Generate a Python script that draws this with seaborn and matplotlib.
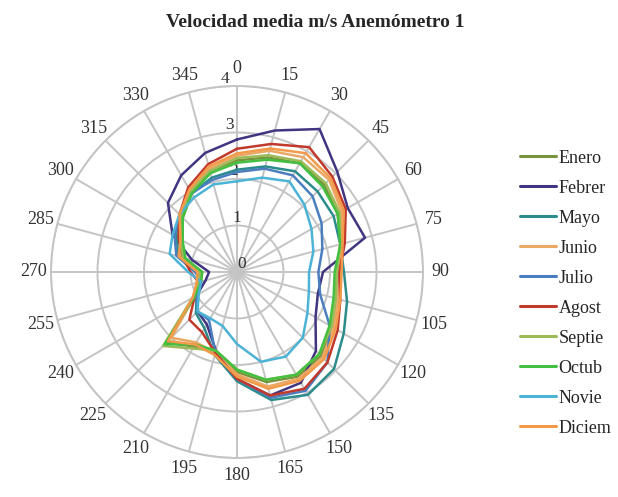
import numpy as np
import pandas as pd
import matplotlib.pyplot as plt
import seaborn as sns

# directions (degrees) and monthly mean speeds (m/s)
directions = [0, 15, 30, 45, 60, 75, 90, 105, 120, 135, 150, 165,
              180, 195, 210, 225, 240, 255, 270, 285, 300, 315, 330, 345]

months = ["Enero", "Febrer", "Mayo", "Junio", "Julio",
          "Agost", "Septie", "Octub", "Novie", "Diciem"]

enero = [2.40, 2.55, 2.70, 2.65, 2.50, 2.30, 2.15, 2.20, 2.35, 2.55, 2.60, 2.45,
         2.15, 1.80, 1.85, 2.15, 1.05, 0.80, 0.75, 1.20, 1.35, 1.65, 1.95, 2.25]
febrer = [2.85, 3.15, 3.55, 3.05, 2.75, 2.85, 1.85, 1.80, 1.95, 2.40, 2.75, 2.75,
          2.30, 1.75, 1.30, 1.20, 1.00, 0.70, 0.60, 1.00, 1.60, 2.10, 2.40, 2.65]
mayo = [2.20, 2.35, 2.50, 2.45, 2.40, 2.30, 2.30, 2.45, 2.65, 2.95, 3.05, 2.85,
        2.35, 1.85, 1.40, 1.25, 1.00, 0.80, 0.85, 1.30, 1.50, 1.70, 1.95, 2.10]
junio = [2.50, 2.70, 2.85, 2.80, 2.60, 2.30, 2.20, 2.25, 2.40, 2.60, 2.65, 2.55,
         2.20, 1.80, 1.75, 2.00, 1.05, 0.85, 0.80, 1.25, 1.40, 1.70, 2.00, 2.30]
julio = [2.15, 2.30, 2.40, 2.30, 2.10, 1.90, 1.75, 1.85, 2.30, 2.75, 2.95, 2.80,
         2.30, 1.80, 1.20, 1.20, 1.00, 0.80, 0.90, 1.35, 1.55, 1.75, 1.95, 2.05]
agost = [2.65, 2.85, 3.10, 2.90, 2.70, 2.40, 2.20, 2.30, 2.50, 2.75, 2.90, 2.75,
         2.30, 1.80, 1.50, 1.45, 1.05, 0.85, 1.00, 1.20, 1.45, 1.75, 2.10, 2.40]
septie = [2.45, 2.60, 2.75, 2.70, 2.55, 2.30, 2.15, 2.20, 2.35, 2.50, 2.55, 2.40,
          2.10, 1.75, 1.90, 2.25, 1.10, 0.85, 0.80, 1.20, 1.40, 1.70, 2.00, 2.25]
octub = [2.35, 2.50, 2.70, 2.60, 2.50, 2.30, 2.10, 2.15, 2.30, 2.50, 2.55, 2.40,
         2.10, 1.75, 1.80, 2.20, 1.05, 0.80, 0.75, 1.15, 1.35, 1.65, 1.95, 2.20]
novie = [1.95, 2.10, 2.25, 2.05, 1.85, 1.70, 1.55, 1.60, 1.75, 2.00, 2.10, 2.00,
         1.55, 1.20, 1.15, 1.20, 0.95, 0.80, 1.05, 1.50, 1.60, 1.75, 1.85, 1.95]
diciem = [2.55, 2.75, 2.95, 2.85, 2.65, 2.35, 2.25, 2.30, 2.45, 2.65, 2.70, 2.60,
          2.25, 1.85, 1.80, 2.10, 1.10, 0.90, 0.85, 1.30, 1.40, 1.75, 2.05, 2.35]

series = [enero, febrer, mayo, junio, julio, agost, septie, octub, novie, diciem]
colors = ["#77933c", "#403580", "#2c8c8c", "#eaa864", "#4a7ebf",
          "#c0392b", "#9bbb59", "#44c040", "#4bb3d6", "#f29a4a"]

# long table, closing each loop by repeating the first direction
rows = []
for m, vals in zip(months, series):
    for d, v in zip(directions + [360], vals + [vals[0]]):
        rows.append({"mes": m, "theta": np.deg2rad(d), "v": v})
df = pd.DataFrame(rows)

sns.set_style("white")
plt.rcParams["font.family"] = ["Liberation Serif", "DejaVu Serif"]

fig = plt.figure(figsize=(6.18, 4.97), dpi=100)
ax = fig.add_axes([0.0825, 0.0785, 0.602, 0.7485], projection="polar")

sns.lineplot(
    data=df,
    x="theta",
    y="v",
    hue="mes",
    hue_order=months,
    palette=colors,
    sort=False,
    estimator=None,
    units="mes",
    linewidth=1.8,
    ax=ax,
)

ax.set_theta_zero_location("N")
ax.set_theta_direction(-1)
ax.set_ylim(0, 4)
ax.set_yticks([0, 1, 2, 3, 4])
ax.set_yticklabels(["0", "1", "2", "3", "4"], fontsize=12.5, color="#333333")
ax.set_rlabel_position(-5)
ax.set_xticks(np.deg2rad(directions))
ax.set_xticklabels([str(d) for d in directions], fontsize=13, color="#333333")
ax.tick_params(axis="x", pad=2)
ax.grid(True, color="#c4c4c4", linewidth=1.4)
ax.spines["polar"].set_color("#c4c4c4")
ax.spines["polar"].set_linewidth(1.4)
ax.set_xlabel("")
ax.set_ylabel("")

ax.get_legend().remove()
handles, labels = ax.get_legend_handles_labels()
for h in handles:
    h.set_linewidth(2.2)
fig.legend(
    handles, labels,
    loc="center left",
    bbox_to_anchor=(0.815, 0.41),
    frameon=False,
    fontsize=13,
    handlelength=2.0,
    handletextpad=0.15,
    labelspacing=0.72,
)

fig.text(0.51, 0.955, "Velocidad media m/s Anemómetro 1",
         ha="center", va="center", fontsize=14, fontweight="bold")

fig.savefig("out.png", dpi=100)
